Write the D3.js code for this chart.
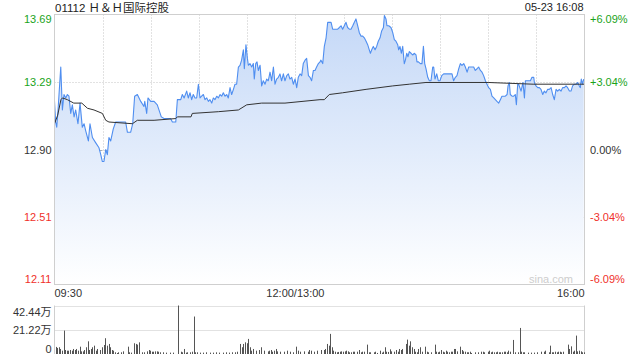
<!DOCTYPE html>
<html>
<head>
<meta charset="utf-8">
<script src="https://cdn.jsdelivr.net/npm/d3@7"></script>
<style>
  html, body { margin: 0; padding: 0; background: #fff; }
  svg { display: block; font-family: "Liberation Sans", Arial, "Noto Sans CJK SC", sans-serif; }
</style>
</head>
<body>
<div id="box"></div>
<script>
// 01112 H&H国际控股 分时图 05-23
const title = '01112 \uFF28\uFF06\uFF28国际控股'
const stamp = '05-23 16:08'
const prevClose = 12.90
const rangePct = 6.09

const priceTicks = [13.69, 13.29, 12.90, 12.51, 12.11]
const pctTicks = ['+6.09%', '+3.04%', '0.00%', '-3.04%', '-6.09%']
const timeTicks = [0, 150, 330] // 交易分钟 (09:30 起)
const timeLabels = ['09:30', '12:00/13:00', '16:00']
const volTicks = [42.44, 21.22, 0] // 万
const volLabels = ['42.44万', '21.22万', '0']

// [交易分钟, 价格]
const prices = [
  [0, 13.18], [0.7, 13.06], [1.4, 13.03], [2.2, 13.13], [3.9, 13.38], [4.9, 13.13], [5.9, 13.22], [7, 13.20],
  [8, 13.22], [9, 13.21], [10.1, 13.11], [11.1, 13.16], [12.2, 13.09], [13.2, 13.13], [14.6, 13.05], [15.9, 13.17],
  [17.3, 13.03], [18.4, 13.05], [19.4, 13.01], [21.1, 12.95], [22.1, 13.05], [23.6, 12.97], [25.6, 12.94], [27.7, 12.91],
  [28.8, 12.87], [29.8, 12.83], [30.8, 12.83], [31.9, 12.90], [32.9, 12.87], [33.9, 12.97], [35, 12.95], [36.6, 13.02],
  [38.1, 13.06], [44.3, 13.06], [45.4, 13.00], [47.4, 13.00], [48.7, 13.05], [49.9, 13.21], [51.6, 13.22], [53.7, 13.18],
  [55.7, 13.15], [56.2, 13.18], [57.4, 13.11], [58.2, 13.20], [59.9, 13.18], [62, 13.18], [64, 13.16], [66.5, 13.09],
  [68.2, 13.08], [72.3, 13.08], [73.4, 13.06], [75.5, 13.06], [76.5, 13.19], [78.6, 13.19], [79.6, 13.22], [80.7, 13.20],
  [82.3, 13.24], [83.3, 13.20], [84.4, 13.23], [85.4, 13.19], [86.4, 13.22], [87.5, 13.20], [88.5, 13.20], [89.6, 13.28],
  [90.6, 13.20], [91.6, 13.21], [92.7, 13.22], [93.7, 13.19], [94.8, 13.20], [95.8, 13.18], [96.8, 13.19], [97.9, 13.17],
  [98.9, 13.20], [99.9, 13.19], [101, 13.21], [102, 13.20], [103.1, 13.22], [104.1, 13.21], [105.1, 13.23], [106.2, 13.21],
  [107.2, 13.22], [108.2, 13.20], [109.3, 13.26], [110.3, 13.22], [111.4, 13.25], [112.4, 13.28], [113.4, 13.28], [114.5, 13.38],
  [115.5, 13.39], [116.5, 13.42], [117.6, 13.48], [118.2, 13.37], [119.2, 13.51], [120.1, 13.43], [120.7, 13.39], [121.7, 13.40],
  [122.8, 13.38], [123.8, 13.40], [124.4, 13.31], [125.3, 13.40], [126.1, 13.41], [126.9, 13.36], [128, 13.39], [129, 13.27],
  [130, 13.30], [131.1, 13.28], [132.1, 13.31], [133.1, 13.30], [134.2, 13.35], [135.2, 13.30], [136.3, 13.38], [137.3, 13.28],
  [138.3, 13.31], [139.4, 13.32], [140.4, 13.34], [141.4, 13.30], [142.5, 13.34], [143.5, 13.30], [144.6, 13.33], [145.6, 13.34],
  [146.6, 13.31], [147.7, 13.32], [148.7, 13.28], [149.8, 13.31], [150.8, 13.26], [151.8, 13.32], [152.9, 13.34], [153.9, 13.33],
  [154.9, 13.40], [156, 13.42], [157, 13.43], [158.1, 13.33], [159.1, 13.32], [160.1, 13.30], [161.2, 13.36], [162.2, 13.36],
  [163.2, 13.38], [164.3, 13.40], [165.3, 13.41], [165.9, 13.42], [167, 13.40], [168, 13.50], [169.1, 13.55], [170.1, 13.64],
  [172.2, 13.64], [173.2, 13.60], [174.2, 13.60], [176.3, 13.60], [177.4, 13.61], [178.4, 13.62], [179.4, 13.60], [181.5, 13.64],
  [182.5, 13.61], [183.6, 13.60], [184.6, 13.60], [185.7, 13.62], [186.7, 13.64], [187.7, 13.66], [188.8, 13.62], [189.8, 13.58],
  [190.8, 13.56], [191.9, 13.56], [192.9, 13.55], [194, 13.53], [195, 13.51], [196, 13.48], [196.7, 13.46], [197.5, 13.48],
  [198.5, 13.50], [199.6, 13.48], [200.6, 13.50], [201.6, 13.53], [202.7, 13.55], [203.7, 13.59], [204.8, 13.61], [205.4, 13.68],
  [206.4, 13.66], [207, 13.62], [208.1, 13.62], [209.5, 13.61], [210.6, 13.58], [211.6, 13.54], [212.6, 13.53], [213.7, 13.51],
  [214.3, 13.48], [215.1, 13.50], [216, 13.46], [216.8, 13.50], [217.8, 13.40], [218.5, 13.42], [219.3, 13.46], [220.1, 13.44],
  [220.9, 13.47], [222, 13.46], [223, 13.45], [224.1, 13.46], [225.1, 13.45], [225.7, 13.41], [226.6, 13.41], [227.8, 13.40],
  [228.8, 13.40], [229.7, 13.50], [230.5, 13.40], [231.3, 13.37], [232.4, 13.32], [233.4, 13.30], [234.4, 13.30], [235.5, 13.38],
  [236.1, 13.38], [236.9, 13.31], [238, 13.34], [239, 13.30], [240, 13.30], [241.1, 13.33], [242.3, 13.34], [246.9, 13.34],
  [247.5, 13.34], [248.5, 13.30], [249.6, 13.32], [250.6, 13.33], [251.7, 13.37], [252.7, 13.40], [253.7, 13.39], [254.8, 13.40],
  [255.8, 13.38], [256.9, 13.35], [257.9, 13.38], [260, 13.38], [261, 13.38], [262, 13.36], [263.1, 13.37], [264.1, 13.38],
  [265.2, 13.36], [266.2, 13.35], [267.2, 13.33], [268.3, 13.30], [269.3, 13.28], [270.3, 13.26], [271.4, 13.25], [272.4, 13.21],
  [273.5, 13.20], [274.5, 13.19], [275.5, 13.18], [276.6, 13.17], [277.6, 13.19], [278.6, 13.21], [279.7, 13.21], [280.7, 13.21],
  [281.8, 13.22], [282.4, 13.27], [283.2, 13.29], [283.8, 13.22], [284.9, 13.21], [285.9, 13.21], [286.9, 13.22], [287.6, 13.16],
  [288.4, 13.28], [289, 13.28], [290.5, 13.24], [291.7, 13.29], [292.6, 13.20], [293.2, 13.30], [294.2, 13.30], [295.3, 13.30],
  [296.3, 13.30], [297.3, 13.32], [298.4, 13.32], [298.8, 13.29], [299.8, 13.27], [300.9, 13.26], [301.9, 13.26], [302.9, 13.25],
  [304, 13.22], [305, 13.24], [306, 13.23], [307.1, 13.25], [308.1, 13.25], [309.2, 13.26], [310.2, 13.22], [311.2, 13.19],
  [312.3, 13.25], [313.3, 13.24], [314.3, 13.25], [315.4, 13.24], [316.4, 13.26], [317.5, 13.26], [318.5, 13.27], [319.5, 13.26],
  [320.6, 13.24], [321.6, 13.24], [322.6, 13.27], [323.7, 13.28], [324.7, 13.28], [325.8, 13.29], [326.8, 13.27], [327.4, 13.26],
  [328, 13.31], [328.8, 13.28], [329.5, 13.31]
]

// 均价线 [交易分钟, 均价]
const avgPrices = [
  [0, 13.05], [2, 13.10], [4, 13.19], [5, 13.20], [8, 13.19], [12, 13.17], [17, 13.17], [20.5, 13.14], [24.6, 13.13],
  [29.8, 13.11], [31.9, 13.07], [33.9, 13.06], [48.5, 13.05], [51.6, 13.07], [62, 13.07], [75.5, 13.08], [76.5, 13.09],
  [85, 13.09], [85.8, 13.11], [102, 13.12], [114.5, 13.13], [119.7, 13.16], [129, 13.17], [143.5, 13.17], [165.3, 13.19],
  [168, 13.19], [171.1, 13.22], [179.4, 13.23], [194, 13.25], [210.6, 13.27], [220.9, 13.28], [231.3, 13.29], [270, 13.29],
  [298, 13.28], [330, 13.28]
]

// 成交量 [交易分钟, 万股]
const volumes = [
  [0, 6.2], [1, 5.3], [2, 5.9], [3, 4.4], [4, 2.9], [5, 20.5], [6, 3.5], [7, 2.9], [8, 2.9], [9, 3.5], [10, 2.9],
  [11, 4.4], [12, 3.5], [13, 4.4], [14, 2.9], [15, 6.4], [16, 2.3], [17, 2.3], [18, 3.5], [19, 5.9], [20, 11.1],
  [21, 3.5], [22, 4.4], [23, 5.9], [24, 7.3], [25, 2.9], [26, 4.4], [28, 3.5], [29, 5.9], [30, 7.9], [31, 13.8],
  [32, 7.3], [33, 8.8], [34, 5.9], [35, 3.5], [36, 2.9], [37, 1.5], [38, 0.6], [39, 1.5], [41, 1.5], [42, 2.3],
  [45, 6.4], [46, 1.5], [47, 1.2], [49, 9.4], [50, 8.8], [51, 8.2], [52, 10.2], [54, 1.5], [55, 1.5], [57, 2.3],
  [58, 3.5], [59, 2.9], [60, 2.0], [61, 2.0], [62, 2.3], [63, 2.3], [64, 2.0], [65, 1.5], [67, 1.5], [69, 1.2],
  [71, 1.2], [73, 1.2], [76, 42.44], [78, 2.0], [79, 1.5], [80, 4.4], [81, 1.2], [82, 1.5], [84, 1.5], [85, 2.0],
  [86, 32.8], [87, 1.5], [88, 1.5], [90, 1.2], [92, 1.2], [94, 1.5], [96, 1.2], [98, 1.2], [100, 1.5], [102, 1.2],
  [104, 1.2], [106, 1.5], [108, 1.2], [110, 1.5], [112, 1.5], [113, 2.0], [115, 8.8], [116, 5.9], [117, 8.8],
  [118, 10.2], [119, 9.4], [120, 13.2], [121, 5.9], [122, 2.9], [123, 4.4], [125, 2.9], [127, 3.5], [128, 5.9],
  [130, 2.9], [132, 2.3], [133, 2.9], [134, 3.5], [135, 2.0], [136, 2.9], [137, 4.4], [138, 2.3], [140, 2.0],
  [142, 2.0], [144, 2.9], [146, 2.0], [148, 1.5], [150, 6.4], [151, 2.9], [152, 2.0], [155, 2.3], [157, 2.0],
  [158, 3.5], [159, 2.9], [161, 2.0], [163, 2.9], [165, 3.5], [167, 3.5], [168, 4.4], [169, 8.8], [170, 7.3],
  [171, 17.6], [172, 5.9], [173, 2.9], [174, 2.0], [175, 1.5], [176, 1.8], [177, 2.0], [178, 2.3], [179, 2.0],
  [180, 2.3], [181, 2.9], [182, 2.3], [183, 1.5], [184, 1.5], [185, 2.0], [186, 2.0], [188, 2.0], [189, 3.5],
  [190, 1.5], [191, 2.0], [192, 2.0], [194, 8.2], [195, 1.5], [196, 1.5], [198, 1.5], [199, 2.0], [200, 0.9],
  [202, 2.9], [203, 1.2], [204, 2.0], [205, 5.9], [206, 2.0], [207, 1.8], [208, 4.1], [209, 2.3], [211, 2.0],
  [212, 3.5], [213, 2.0], [214, 4.4], [215, 3.5], [216, 4.4], [218, 8.8], [219, 12.6], [220, 7.3], [221, 11.1],
  [222, 5.9], [223, 4.4], [224, 2.0], [225, 1.5], [226, 4.4], [227, 5.9], [228, 2.0], [230, 6.4], [231, 2.0],
  [232, 1.5], [234, 1.5], [236, 8.2], [237, 2.0], [238, 1.5], [239, 2.0], [240, 3.5], [241, 2.0], [242, 1.5],
  [243, 2.9], [244, 2.0], [245, 1.5], [246, 2.0], [247, 2.0], [248, 4.4], [249, 4.4], [250, 2.3], [252, 6.4],
  [253, 3.5], [254, 2.3], [255, 2.0], [256, 1.5], [257, 1.5], [258, 2.0], [259, 0.9], [261, 1.5], [263, 1.5],
  [265, 2.0], [266, 2.0], [267, 1.5], [269, 2.0], [270, 2.9], [271, 1.5], [272, 2.0], [273, 1.5], [274, 1.5],
  [275, 2.0], [276, 1.5], [277, 1.5], [278, 1.5], [279, 2.0], [280, 2.0], [281, 1.5], [282, 2.9], [283, 2.0],
  [285, 12.3], [286, 1.5], [288, 1.5], [289, 22.8], [290, 2.0], [291, 1.5], [292, 1.5], [294, 1.2], [296, 1.2],
  [298, 1.2], [300, 1.5], [302, 2.0], [304, 2.0], [305, 2.9], [307, 1.5], [308, 7.3], [309, 1.5], [310, 1.5],
  [311, 2.0], [312, 1.5], [313, 2.0], [314, 2.0], [315, 1.5], [316, 2.0], [319, 8.2], [320, 4.4], [321, 6.7],
  [322, 2.0], [323, 2.9], [324, 16.1], [325, 2.3], [326, 2.9], [327, 2.3], [328, 1.5], [329, 1.5]
]

const width = 640
const height = 360
const plot = { left: 54.5, right: 584.5, top: 14.5, bottom: 284.5 }
const volBox = { top: 305.5, bottom: 354 }

const upColor = '#1aa31a'
const downColor = '#f0302a'
const flatColor = '#333'
const gridColor = '#c4c4c4'

const svg = d3.select('#box').append('svg')
  .attr('width', width).attr('height', height)

const x = d3.scaleLinear().domain([0, 330]).range([plot.left, plot.right])
const y = d3.scaleLinear()
  .domain([prevClose * (1 - rangePct / 100), prevClose * (1 + rangePct / 100)])
  .range([plot.bottom, plot.top])
const yVol = d3.scaleLinear().domain([0, volTicks[0]]).range([volBox.bottom, volBox.top])

const tickColor = (v) => v > prevClose ? upColor : (v < prevClose ? downColor : flatColor)

// 渐变填充
const grad = svg.append('defs').append('linearGradient')
  .attr('id', 'areaFill')
  .attr('gradientUnits', 'userSpaceOnUse')
  .attr('x1', 0).attr('y1', plot.top).attr('x2', 0).attr('y2', plot.bottom)
grad.append('stop').attr('offset', '0%').attr('stop-color', '#c4d8f7')
grad.append('stop').attr('offset', '100%').attr('stop-color', '#ffffff')

// 网格
const grid = svg.append('g').attr('class', 'grid')
grid.selectAll('.vgrid')
  .data(d3.range(30, 330, 30))
  .join('line')
  .attr('x1', d => Math.round(x(d)) + 0.5).attr('x2', d => Math.round(x(d)) + 0.5)
  .attr('y1', plot.top).attr('y2', plot.bottom)
  .attr('stroke', gridColor).attr('stroke-dasharray', '1,2')

grid.selectAll('.hgrid')
  .data(priceTicks.slice(1, -1))
  .join('line')
  .attr('x1', plot.left).attr('x2', plot.right)
  .attr('y1', d => Math.round(y(d)) + 0.5).attr('y2', d => Math.round(y(d)) + 0.5)
  .attr('stroke', d => d === prevClose ? '#b0b0b0' : gridColor)
  .attr('stroke-dasharray', d => d === prevClose ? '3,2' : '1,2')

// 价格面积与线
const priceArea = d3.area()
  .x(d => x(d[0]))
  .y0(plot.bottom)
  .y1(d => y(d[1]))

const priceLine = d3.line()
  .x(d => x(d[0]))
  .y(d => y(d[1]))

svg.append('path')
  .datum(prices)
  .attr('fill', 'url(#areaFill)')
  .attr('d', priceArea)

svg.append('path')
  .datum(prices)
  .attr('fill', 'none')
  .attr('stroke', '#4f8ef0')
  .attr('stroke-width', 1.1)
  .attr('stroke-linejoin', 'round')
  .attr('d', priceLine)

svg.append('path')
  .datum(avgPrices)
  .attr('fill', 'none')
  .attr('stroke', '#333')
  .attr('stroke-width', 1)
  .attr('d', priceLine)

// 边框
svg.append('rect')
  .attr('x', plot.left).attr('y', plot.top)
  .attr('width', plot.right - plot.left).attr('height', plot.bottom - plot.top)
  .attr('fill', 'none').attr('stroke', '#cfcfcf')

// 左侧价格 / 右侧涨跌幅
const last = priceTicks.length - 1
svg.append('g').selectAll('text')
  .data(priceTicks)
  .join('text')
  .attr('x', plot.left - 3)
  .attr('y', (d, i) => y(d) + (i === 0 ? 9.5 : (i === last ? -2.5 : 4)))
  .attr('text-anchor', 'end')
  .attr('font-size', 11)
  .attr('fill', d => tickColor(d))
  .text(d => d.toFixed(2))

svg.append('g').selectAll('text')
  .data(pctTicks)
  .join('text')
  .attr('x', plot.right + 5.5)
  .attr('y', (d, i) => y(priceTicks[i]) + (i === 0 ? 9.5 : (i === last ? -2.5 : 4)))
  .attr('font-size', 11)
  .attr('fill', (d, i) => tickColor(priceTicks[i]))
  .text(d => d)

// 时间轴
svg.append('g').selectAll('text')
  .data(timeTicks)
  .join('text')
  .attr('x', d => x(d))
  .attr('y', 297)
  .attr('text-anchor', (d, i) => i === 0 ? 'start' : (i === timeTicks.length - 1 ? 'end' : 'middle'))
  .attr('font-size', 11)
  .attr('fill', '#333')
  .text((d, i) => timeLabels[i])

// 标题与时间
svg.append('text')
  .attr('x', plot.left + 0.5).attr('y', 11.5)
  .attr('font-size', 11.5).attr('fill', '#222')
  .text(title)

svg.append('text')
  .attr('x', plot.right - 1).attr('y', 11)
  .attr('text-anchor', 'end')
  .attr('font-size', 11).attr('fill', '#222')
  .text(stamp)

svg.append('text')
  .attr('x', 573).attr('y', 283)
  .attr('text-anchor', 'end')
  .attr('font-size', 11).attr('fill', '#cdcdcd')
  .text('sina.com')

// 成交量
const vol = svg.append('g').attr('class', 'volume')
vol.selectAll('.vgrid')
  .data(volTicks.slice(0, 2))
  .join('line')
  .attr('x1', plot.left).attr('x2', plot.right)
  .attr('y1', d => Math.round(yVol(d)) + 0.5).attr('y2', d => Math.round(yVol(d)) + 0.5)
  .attr('stroke', gridColor).attr('stroke-dasharray', '1,1')

vol.append('line')
  .attr('x1', plot.left).attr('x2', plot.left)
  .attr('y1', volBox.top).attr('y2', volBox.bottom)
  .attr('stroke', '#cfcfcf')
vol.append('line')
  .attr('x1', plot.right).attr('x2', plot.right)
  .attr('y1', volBox.top).attr('y2', volBox.bottom)
  .attr('stroke', '#cfcfcf')

vol.selectAll('.bar')
  .data(volumes)
  .join('line')
  .attr('x1', d => Math.round(x(d[0])) + 1.5).attr('x2', d => Math.round(x(d[0])) + 1.5)
  .attr('y1', volBox.bottom)
  .attr('y2', d => Math.min(yVol(d[1]), volBox.bottom - 1))
  .attr('stroke', '#555').attr('stroke-width', 1)

vol.selectAll('.vlabel')
  .data(volTicks)
  .join('text')
  .attr('x', plot.left - 3)
  .attr('y', (d, i) => yVol(d) + (i === 0 ? 10 : (i === 2 ? -1 : 4)))
  .attr('text-anchor', 'end')
  .attr('font-size', 11)
  .attr('fill', '#333')
  .text((d, i) => volLabels[i])
</script>
</body>
</html>
